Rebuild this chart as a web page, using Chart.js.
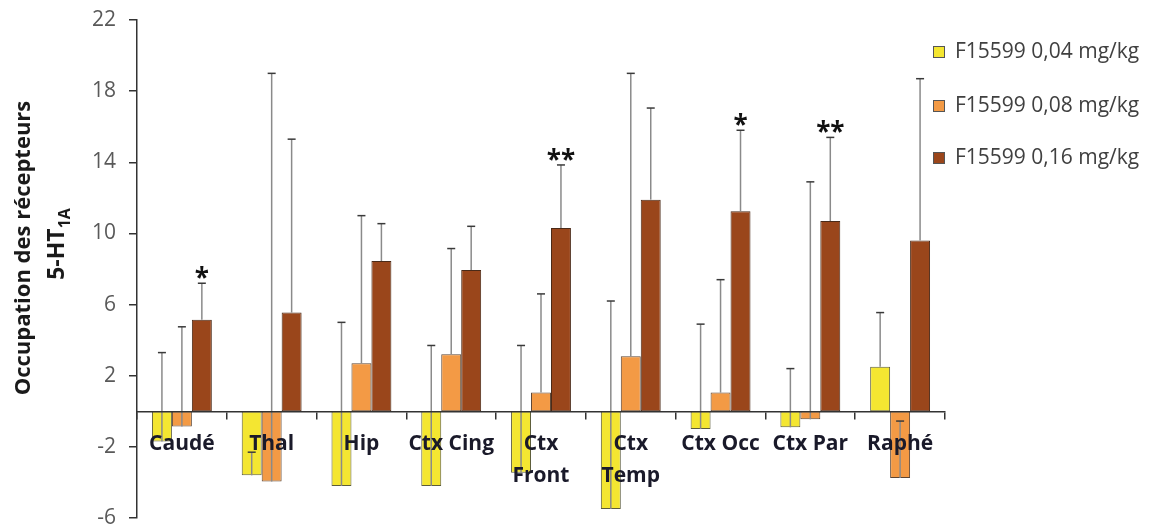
<!DOCTYPE html>
<html>
<head>
<meta charset="utf-8">
<script src="https://cdn.jsdelivr.net/npm/chart.js@4.4.1/dist/chart.umd.min.js"></script>
<style>
    html, body { margin: 0; padding: 0; background: #ffffff; }
    #wrap { width: 1164px; height: 529px; }
</style>
</head>
<body>
<div id="wrap"><canvas id="occupation"></canvas></div>
<script>
// Régions cérébrales
const regions = ["Caudé", "Thal", "Hip", "Ctx Cing", ["Ctx", "Front"], ["Ctx", "Temp"], "Ctx Occ", "Ctx Par", "Raphé"];

// Occupation moyenne (%) par dose
const dose004 = [-1.7, -3.6, -4.2, -4.2, -3.45, -5.5, -1.0, -0.9, 2.5];
const dose008 = [-0.85, -3.95, 2.7, 3.2, 1.05, 3.1, 1.05, -0.45, -3.75];
const dose016 = [5.15, 5.55, 8.45, 7.95, 10.3, 11.9, 11.25, 10.7, 9.6];

// Ecarts-types (barres d'erreur vers le haut)
const err004 = [5.0, 1.3, 9.2, 7.9, 7.15, 11.7, 5.9, 3.3, 3.05];
const err008 = [5.6, 22.95, 8.3, 5.95, 5.55, 15.9, 6.35, 13.35, 3.2];
const err016 = [2.05, 9.75, 2.1, 2.45, 3.55, 5.15, 4.55, 4.7, 9.1];

// Significativité (0,16 mg/kg)
const signif016 = ["*", "", "", "", "**", "", "*", "**", ""];

// Graduations de l'axe Y
const yTicks = [-6, -2, 2, 6, 10, 14, 18, 22];

const FONT = "'Open Sans', sans-serif";

// Barres d'erreur (uniquement vers le haut)
const errorBarsPlugin = {
    id: "errorBars",
    afterDatasetsDraw(chart) {
        const ctx = chart.ctx;
        const yScale = chart.scales.y;
        ctx.save();
        chart.data.datasets.forEach((ds, i) => {
            const meta = chart.getDatasetMeta(i);
            meta.data.forEach((bar, j) => {
                const v = ds.data[j];
                const yVal = yScale.getPixelForValue(v);
                const yTop = yScale.getPixelForValue(v + ds.errors[j]);
                ctx.strokeStyle = "#8a8a8a";
                ctx.lineWidth = 1.5;
                ctx.beginPath();
                ctx.moveTo(bar.x, yVal);
                ctx.lineTo(bar.x, yTop);
                ctx.stroke();
                ctx.strokeStyle = "#3a3a3a";
                ctx.beginPath();
                ctx.moveTo(bar.x - 4, yTop);
                ctx.lineTo(bar.x + 4, yTop);
                ctx.stroke();
            });
        });
        // étoiles au-dessus de la dose 0,16
        const meta = chart.getDatasetMeta(2);
        ctx.fillStyle = "#111111";
        ctx.font = "bold 26px " + FONT;
        ctx.textAlign = "center";
        ctx.textBaseline = "alphabetic";
        signif016.forEach((s, j) => {
            if (!s) return;
            const yTop = yScale.getPixelForValue(dose016[j] + err016[j]);
            ctx.fillText(s, meta.data[j].x, yTop + 4);
        });
        ctx.restore();
    },
};

// Titre Y avec indice + légende à droite
const decorPlugin = {
    id: "decor",
    afterDraw(chart) {
        const ctx = chart.ctx;
        ctx.save();
        // titre de l'axe Y
        ctx.translate(0, 248);
        ctx.rotate(-Math.PI / 2);
        ctx.fillStyle = "#1a1a1a";
        ctx.textBaseline = "middle";
        ctx.textAlign = "center";
        ctx.font = "bold 22px " + FONT;
        ctx.fillText("Occupation des récepteurs", 0, 24);
        const main = "5-HT";
        const sub = "1A";
        ctx.font = "bold 23px " + FONT;
        const wMain = ctx.measureText(main).width;
        ctx.font = "bold 16px " + FONT;
        const wSub = ctx.measureText(sub).width;
        const x0 = -(wMain + wSub) / 2 + 4;
        ctx.textAlign = "left";
        ctx.font = "bold 23px " + FONT;
        ctx.fillText(main, x0, 57);
        ctx.font = "bold 16px " + FONT;
        ctx.fillText(sub, x0 + wMain, 65);
        ctx.restore();

        // légende
        ctx.save();
        const rowsY = [52, 106, 158];
        chart.data.datasets.forEach((ds, i) => {
            const y = rowsY[i];
            ctx.fillStyle = ds.backgroundColor;
            ctx.fillRect(933, y - 6, 12, 12);
            ctx.strokeStyle = "#555555";
            ctx.lineWidth = 1;
            ctx.strokeRect(933.5, y - 5.5, 11, 11);
            ctx.fillStyle = "#404040";
            ctx.font = "21px " + FONT;
            ctx.textAlign = "left";
            ctx.textBaseline = "middle";
            ctx.fillText(ds.label, 955, y);
        });
        ctx.restore();
    },
};

function initializeChart() {
    const canvas = document.getElementById("occupation");

    const config = {
        type: "bar",
        data: {
            labels: regions,
            datasets: [
                {
                    label: "F15599 0,04 mg/kg",
                    data: dose004,
                    errors: err004,
                    backgroundColor: "#f4e631",
                    borderColor: "#5b5b3c",
                },
                {
                    label: "F15599 0,08 mg/kg",
                    data: dose008,
                    errors: err008,
                    backgroundColor: "#f39a45",
                    borderColor: "#5c4534",
                },
                {
                    label: "F15599 0,16 mg/kg",
                    data: dose016,
                    errors: err016,
                    backgroundColor: "#9a461b",
                    borderColor: "#4a2a18",
                },
            ],
        },
        options: {
            responsive: true,
            maintainAspectRatio: false,
            animation: false,
            datasets: {
                bar: {
                    borderWidth: 1,
                    borderSkipped: false,
                    categoryPercentage: 0.667,
                    barPercentage: 1.0,
                },
            },
            layout: { padding: { top: 20, bottom: 11, right: 219, left: 0 } },
            plugins: {
                legend: { display: false },
                tooltip: { enabled: false },
            },
            scales: {
                x: {
                    position: { y: 0 },
                    offset: true,
                    grid: {
                        offset: true,
                        drawOnChartArea: false,
                        drawTicks: true,
                        tickLength: 7,
                        color: "#333333",
                        lineWidth: 1.5,
                        z: 1,
                    },
                    border: { color: "#333333", width: 1.5, z: 1 },
                    ticks: {
                        z: 2,
                        color: "#1a1a2a",
                        font: { family: FONT, size: 21, weight: "bold", lineHeight: 1.5 },
                        padding: 10,
                        maxRotation: 0,
                        autoSkip: false,
                    },
                },
                y: {
                    min: -6,
                    max: 22,
                    afterBuildTicks: (scale) => {
                        scale.ticks = yTicks.map((v) => ({ value: v }));
                    },
                    afterFit: (scale) => {
                        scale.width = 137;
                        // pas de marge verticale supplémentaire pour les étiquettes
                        scale.paddingTop = 0;
                        scale.paddingBottom = 0;
                    },
                    grid: {
                        drawOnChartArea: false,
                        drawTicks: true,
                        tickLength: 8,
                        color: "#333333",
                        lineWidth: 1.5,
                    },
                    border: { color: "#333333", width: 1.5 },
                    ticks: {
                        color: "#595959",
                        font: { family: FONT, size: 21 },
                        padding: 13,
                    },
                },
            },
        },
        plugins: [errorBarsPlugin, decorPlugin],
    };

    canvas.chart = new Chart(canvas, config);
}

document.addEventListener("DOMContentLoaded", initializeChart);
</script>
</body>
</html>
